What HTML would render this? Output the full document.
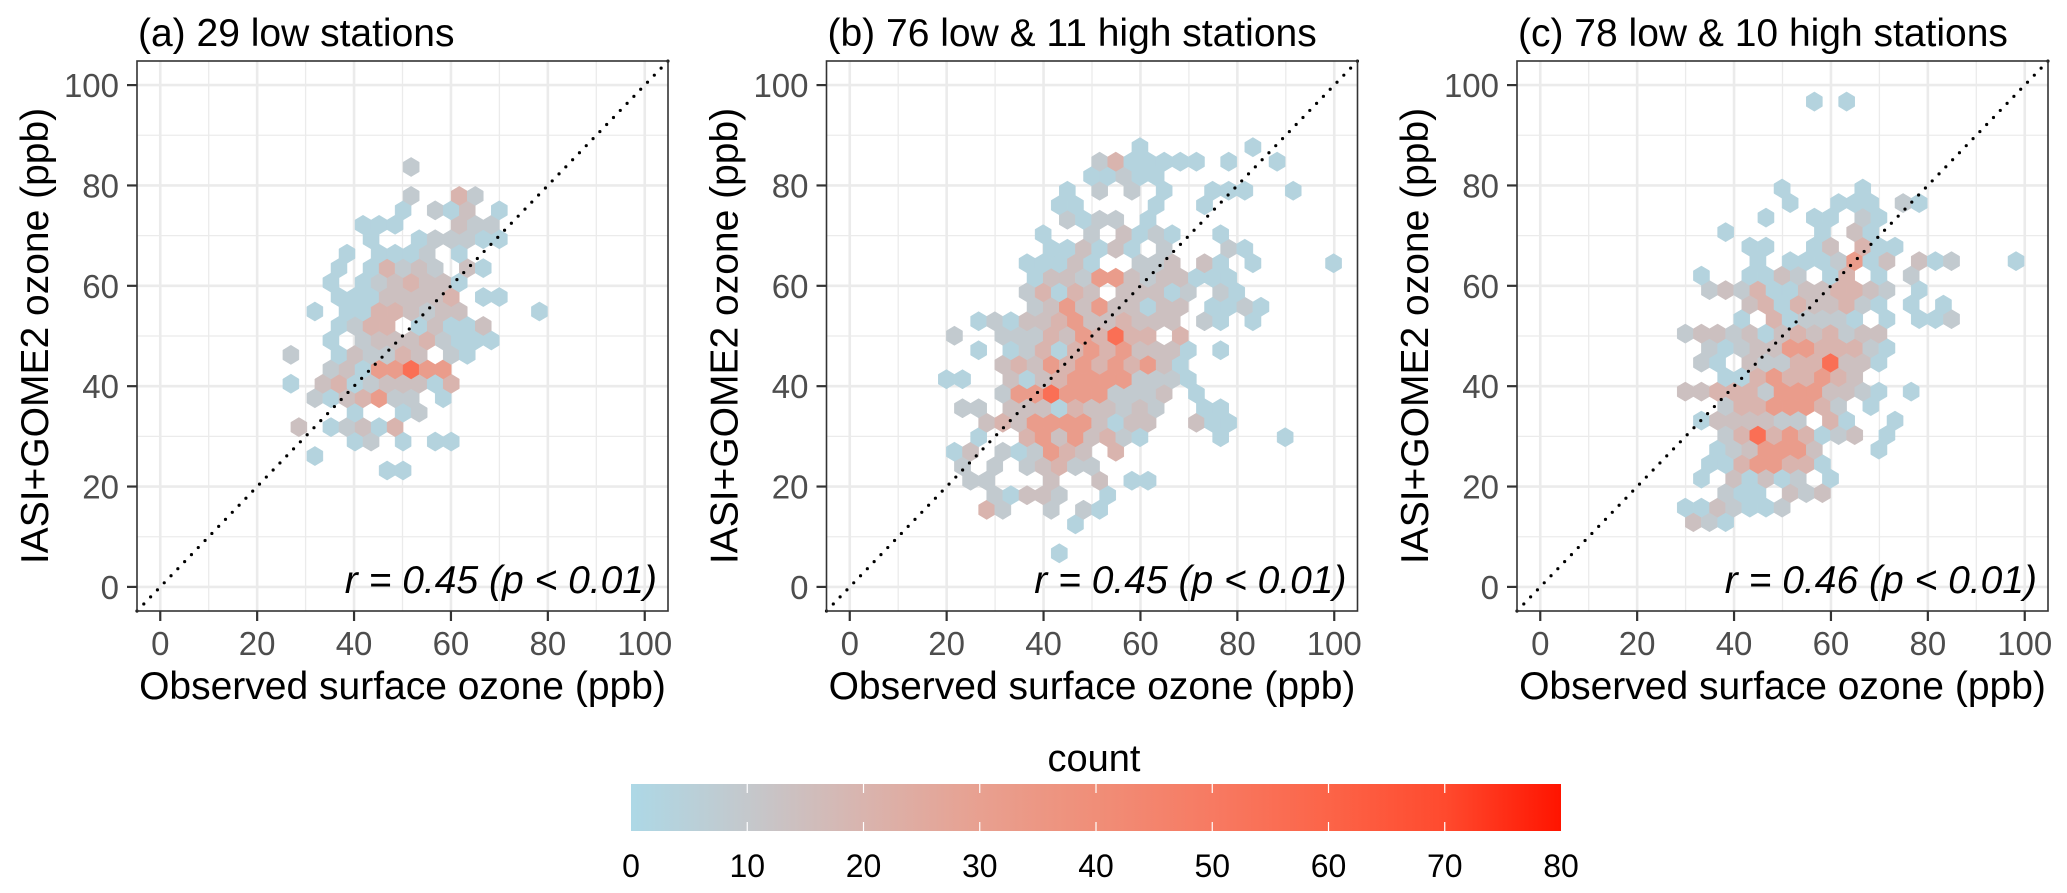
<!DOCTYPE html>
<html><head><meta charset="utf-8"><style>
html,body{margin:0;padding:0;background:#fff;}
svg{display:block;font-family:"Liberation Sans",Arial,sans-serif;}
</style></head><body>
<svg id="chart" width="2067" height="893" viewBox="0 0 2067 893" xmlns="http://www.w3.org/2000/svg"></svg>
<script>
// ---- data ----
const panelTitles = ["(a) 29 low stations", "(b) 76 low & 11 high stations", "(c) 78 low & 10 high stations"];
const corrLabels = ["r = 0.45 (p < 0.01)", "r = 0.45 (p < 0.01)", "r = 0.46 (p < 0.01)"];
const axisTicks = [0, 20, 40, 60, 80, 100];
const legendTicks = [0, 10, 20, 30, 40, 50, 60, 70, 80];
const levelCounts = {b: 3, g: 9, q: 14, p: 20, s: 32, r: 55};
// hex grid origins (data units): x0, y0, dx, dy
const gridA = [40.2, 23.2, 3.31, 2.88];
const gridB = [59.9, 6.7, 3.33, 2.89];
const gridC = [31.6, 12.9, 3.33, 2.89];
// rows indexed by k (row from bottom); entries "c<level>"
const hexRowsA = {
 21:"7g", 19:"7g 13p 15g", 18:"6b 10g 12b 14q 18b", 17:"1b 3b 5b 13q 15g 17g",
 16:"2b 8b 10g 12g 14g 16b 18b", 15:"-1b 3b 5b 7b 9g 13b", 14:"-2b 2b 4p 6g 8q 10g 14q 16b",
 13:"-3b 1b 3g 5q 7p 9q 11q 13b", 12:"-2b 0b 2b 4q 6q 8q 10q 12p 16b 18b",
 11:"-5b -1b 1b 3p 5p 7q 9g 11q 13q 23b", 10:"-2b 0g 2p 4p 8b 10q 12b 14b 16q",
 9:"-3b 1g 3q 5q 7q 9p 11g 13b 15b 17b", 8:"-8g -2b 0q 2g 4g 6p 8q 12g 14b",
 7:"-3g -1q 1b 3s 5s 7r 9s 11s", 6:"-8b -4q -2p 0b 2g 4q 6q 8q 10b 12p",
 5:"-5g -3b -1q 1p 3s 5g 7g 11b", 4:"0b 6b 8g", 3:"-7q -3b -1g 1q 3b 5p",
 2:"0b 2g 6b 10b 12b", 1:"-5b", 0:"4b 6b"
};
const hexRowsB = {
 28:"0b 14b", 27:"-5g -3p -1b 1b 3b 5b 7b 11b 17b", 26:"-6b -4b -2g 0b 2b",
 25:"-9b -5g -1g 3b 9b 11b 13b 19b", 24:"-10b -8b 2b 8b", 23:"-9g -7b -5g -3g 1b",
 22:"-12b -6g -2q 0b 2g 4b 10b", 21:"-11b -9b -7q -5b -3q -1b 3g 11g 13b",
 20:"-14b -12b -10b -8q -6b 0g 2g 4q 8q 10b 14b 24b",
 19:"-13b -11q -9q -7g -5s -3s -1q 1g 3q 5q 7b 9b 11b",
 18:"-14g -12p -10b -8p -6q -2q 0q 2q 4b 6g 10g 12b",
 17:"-13g -11q -9s -7q -5s -3q -1q 1b 3q 5q 9b 11b 13g 15b",
 16:"-20b -18g -16b -14q -12q -10p -8s -6q -4q -2p 0q 2q 4q 8g 10b 14b",
 15:"-23g -17g -15g -13g -11p -9q -7s -5p -3r -1p 1p 5p",
 14:"-20b -16b -14g -12p -10b -8p -6s -4p -2s 0q 2q 4q 6b 10b",
 13:"-17q -15p -13q -11s -9p -7s -5p -3s -1p 1s 3q 5b",
 12:"-24b -22b -16q -14b -12q -10p -8s -6s -4s -2s 0g 2g 4g 6b",
 11:"-17g -15s -13s -11r -9s -7s -5s -3g -1g 1g 3q 7b",
 10:"-22g -20g -16q -14q -12q -10b -8p -6q -4q -2g 0q 2g 8b 10b",
 9:"-19q -17p -15q -13s -11s -9s -7s -5q -3b -1q 1q 7q 9b 11b",
 8:"-20b -14p -12s -10q -8s -6q -4p -2g 0b 10b 18b",
 7:"-23b -21q -17g -15b -13g -11s -9p -7q -3p",
 6:"-22g -18g -14g -12q -10p -8g -6g", 5:"-21g -19g -11q -5q -1b 1b",
 4:"-18g -16b -14q -12q -10g -4b", 3:"-19p -17g -11g -7g -5b", 2:"-8b", 0:"-10b"
};
const hexRowsC = {
 29:"15b 19b", 23:"11b 21b", 22:"12b 18b 20b 22b 26g 28b", 21:"9b 15b 17b 21g 23b",
 20:"4b 16b 20q 22b", 19:"7b 9b 15b 17q 21p 23b 25b",
 18:"8b 12b 14b 16b 18g 20s 22b 24q 28q 30b 32g 40b",
 17:"1b 7b 9b 11q 13g 17b 19p 23b 27g",
 16:"2g 4q 6g 8p 10b 12b 14q 16q 18p 20p 22q 24g 28b",
 15:"7q 9p 11b 13p 15q 17q 19p 21g 23b 27b 31b",
 14:"6b 10p 12b 14g 16g 18g 20b 24b 28b 30b 32g",
 13:"-1g 1q 3q 5g 7q 9b 11q 13p 15q 17p 19g 21q 23q",
 12:"2g 4b 6g 8q 10q 12s 14s 16p 18p 20p 22g 24b",
 11:"1g 3b 7q 9g 11g 13p 15p 17r 19q 21q 23b",
 10:"4b 6b 8p 10s 12p 14p 16s 18p 20q",
 9:"-1q 1q 3p 5p 7p 9g 11s 13s 15s 17q 19q 21g 23b 27b",
 8:"4g 6p 8p 10s 12s 14s 16p 18g 22b",
 7:"1b 3q 5q 7q 9q 11g 13g 17p 19b 25b",
 6:"4g 6p 8r 10p 12s 14p 16b 18g 20q 24b",
 5:"3b 5g 7q 9s 11s 13s 15q 23b", 4:"2b 4b 6p 8s 10s 12p 14p 16b",
 3:"1b 5q 7b 9q 11b 13g 17b", 2:"4g 6b 8b 12q 14g 16q",
 1:"-1b 1b 3q 5g 7b 9b 11g", 0:"0q 2g 4b"
};
const panelRows = [hexRowsA, hexRowsB, hexRowsC];
const panelGrids = [gridA, gridB, gridC];

// ---- layout ----
const NS = "http://www.w3.org/2000/svg";
const svg = document.getElementById("chart");
const panelLeft = [137, 826.5, 1517];
const PW = 531, PT = 61, PB = 611;
const dMin = -4.8, dMax = 104.8;
function sx(p, v){ return panelLeft[p] + (v - dMin) / (dMax - dMin) * PW; }
function sy(v){ return PB - (v - dMin) / (dMax - dMin) * (PB - PT); }

const stops = [[0,[173,216,230]],[10,[196,200,204]],[20,[217,180,174]],[30,[232,160,144]],[40,[240,142,120]],[50,[247,122,98]],[60,[252,100,72]],[70,[255,74,46]],[80,[255,20,0]]];
function colorFor(c){
  c = Math.max(0, Math.min(80, c));
  for (let i = 0; i < stops.length - 1; i++){
    const a = stops[i], b = stops[i+1];
    if (c <= b[0]){
      const t = (c - a[0]) / (b[0] - a[0]);
      const r = a[1].map((v, j) => Math.round(v + (b[1][j] - v) * t));
      return "rgb(" + r.join(",") + ")";
    }
  }
  return "rgb(255,20,0)";
}
function mk(tag, attrs, parent){
  const e = document.createElementNS(NS, tag);
  for (const k in attrs) e.setAttribute(k, attrs[k]);
  (parent || svg).appendChild(e);
  return e;
}

for (let p = 0; p < 3; p++){
  const g = mk("g", {});
  
  
  const L = panelLeft[p], R = L + PW;
  for (let v = 0; v <= 100; v += 10){
    const major = v % 20 === 0;
    const w = major ? 2.6 : 1.3;
    const vl = mk("line", {x1: sx(p, v), x2: sx(p, v), y1: PT, y2: PB, stroke: "#ebebeb", "stroke-width": w}, g);
    
    
    const hl = mk("line", {x1: L, x2: R, y1: sy(v), y2: sy(v), stroke: "#ebebeb", "stroke-width": w}, g);
    
    
  }
  const [x0, y0, dx, dy] = panelGrids[p];
  const rows = panelRows[p];
  const hw = dx / 2 * (PW / (dMax - dMin));
  const hh = dy * 2 / 3 * ((PB - PT) / (dMax - dMin));
  for (const k in rows){
    rows[k].trim().split(/\s+/).forEach(tok => {
      const c = parseInt(tok, 10);
      const cnt = levelCounts[tok.slice(-1)];
      const cx = sx(p, x0 + c * dx / 2), cy = sy(y0 + k * dy);
      const pts = [[0,-hh],[hw,-hh/2],[hw,hh/2],[0,hh],[-hw,hh/2],[-hw,-hh/2]].map(q => (cx+q[0]).toFixed(1)+","+(cy+q[1]).toFixed(1)).join(" ");
      const h = mk("polygon", {points: pts, fill: colorFor(cnt), stroke: colorFor(cnt), "stroke-width": 0.5}, g);
      
      
    });
  }
  const ln = mk("line", {x1: sx(p, dMin), y1: sy(dMin), x2: sx(p, dMax), y2: sy(dMax), stroke: "#000", "stroke-width": 3.2, "stroke-linecap": "round", "stroke-dasharray": "0 9.8"}, g);
  
  
  const bd = mk("rect", {x: L, y: PT, width: PW, height: PB - PT, fill: "none", stroke: "#333", "stroke-width": 1.6}, g);
  
  
  axisTicks.forEach(v => {
    const tx = mk("line", {x1: sx(p, v), x2: sx(p, v), y1: PB, y2: PB + 10, stroke: "#333", "stroke-width": 2.2}, g);
    
    
    const ty = mk("line", {x1: L - 10, x2: L, y1: sy(v), y2: sy(v), stroke: "#333", "stroke-width": 2.2}, g);
    
    
    const lx = mk("text", {x: sx(p, v), y: PB + 44, "text-anchor": "middle", "font-size": 33, fill: "#4d4d4d"}, g);
    lx.textContent = v;
    
    
    const ly = mk("text", {x: L - 18, y: sy(v) + 12, "text-anchor": "end", "font-size": 33, fill: "#4d4d4d"}, g);
    ly.textContent = v;
    
    
  });
  const t = mk("text", {x: L + 1, y: 46, "font-size": 39, fill: "#000"}, g);
  t.textContent = panelTitles[p];
  
  
  const xt = mk("text", {x: L + PW / 2, y: 699, "text-anchor": "middle", "font-size": 39, fill: "#000"}, g);
  xt.textContent = "Observed surface ozone (ppb)";
  
  
  const yt = mk("text", {x: 0, y: 0, "text-anchor": "middle", "font-size": 39, fill: "#000", transform: "translate(" + (L - 89) + "," + ((PT + PB) / 2) + ") rotate(-90)"}, g);
  yt.textContent = "IASI+GOME2 ozone (ppb)";
  
  
  const rt = mk("text", {x: L + 520, y: 593, "text-anchor": "end", "font-size": 39, "font-style": "italic", fill: "#000"}, g);
  rt.textContent = corrLabels[p];
  
  
}

// ---- legend ----
const lg = mk("g", {});


const defs = mk("defs", {}, lg);
const grad = mk("linearGradient", {id: "cbar", x1: "0", x2: "1", y1: "0", y2: "0"}, defs);
stops.forEach(s => mk("stop", {offset: (s[0] / 80 * 100) + "%", "stop-color": colorFor(s[0])}, grad));
const CB0 = 631, CB1 = 1561;
function lx(v){ return CB0 + v / 80 * (CB1 - CB0); }
const cb = mk("rect", {x: CB0, y: 784, width: CB1 - CB0, height: 47, fill: "url(#cbar)"}, lg);


legendTicks.forEach(v => {
  if (v > 0 && v < 80){
    const tk = mk("line", {x1: lx(v), x2: lx(v), y1: 784, y2: 793, stroke: "#fff", "stroke-width": 1.2}, lg);
    
    
    const tk2 = mk("line", {x1: lx(v), x2: lx(v), y1: 822, y2: 831, stroke: "#fff", "stroke-width": 1.2}, lg);
    
    
  }
  const tl = mk("text", {x: lx(v), y: 877, "text-anchor": "middle", "font-size": 32, fill: "#000"}, lg);
  tl.textContent = v;
  
  
});
const lt = mk("text", {x: 1094, y: 771, "text-anchor": "middle", "font-size": 38, fill: "#000"}, lg);
lt.textContent = "count";


</script>
</body></html>
